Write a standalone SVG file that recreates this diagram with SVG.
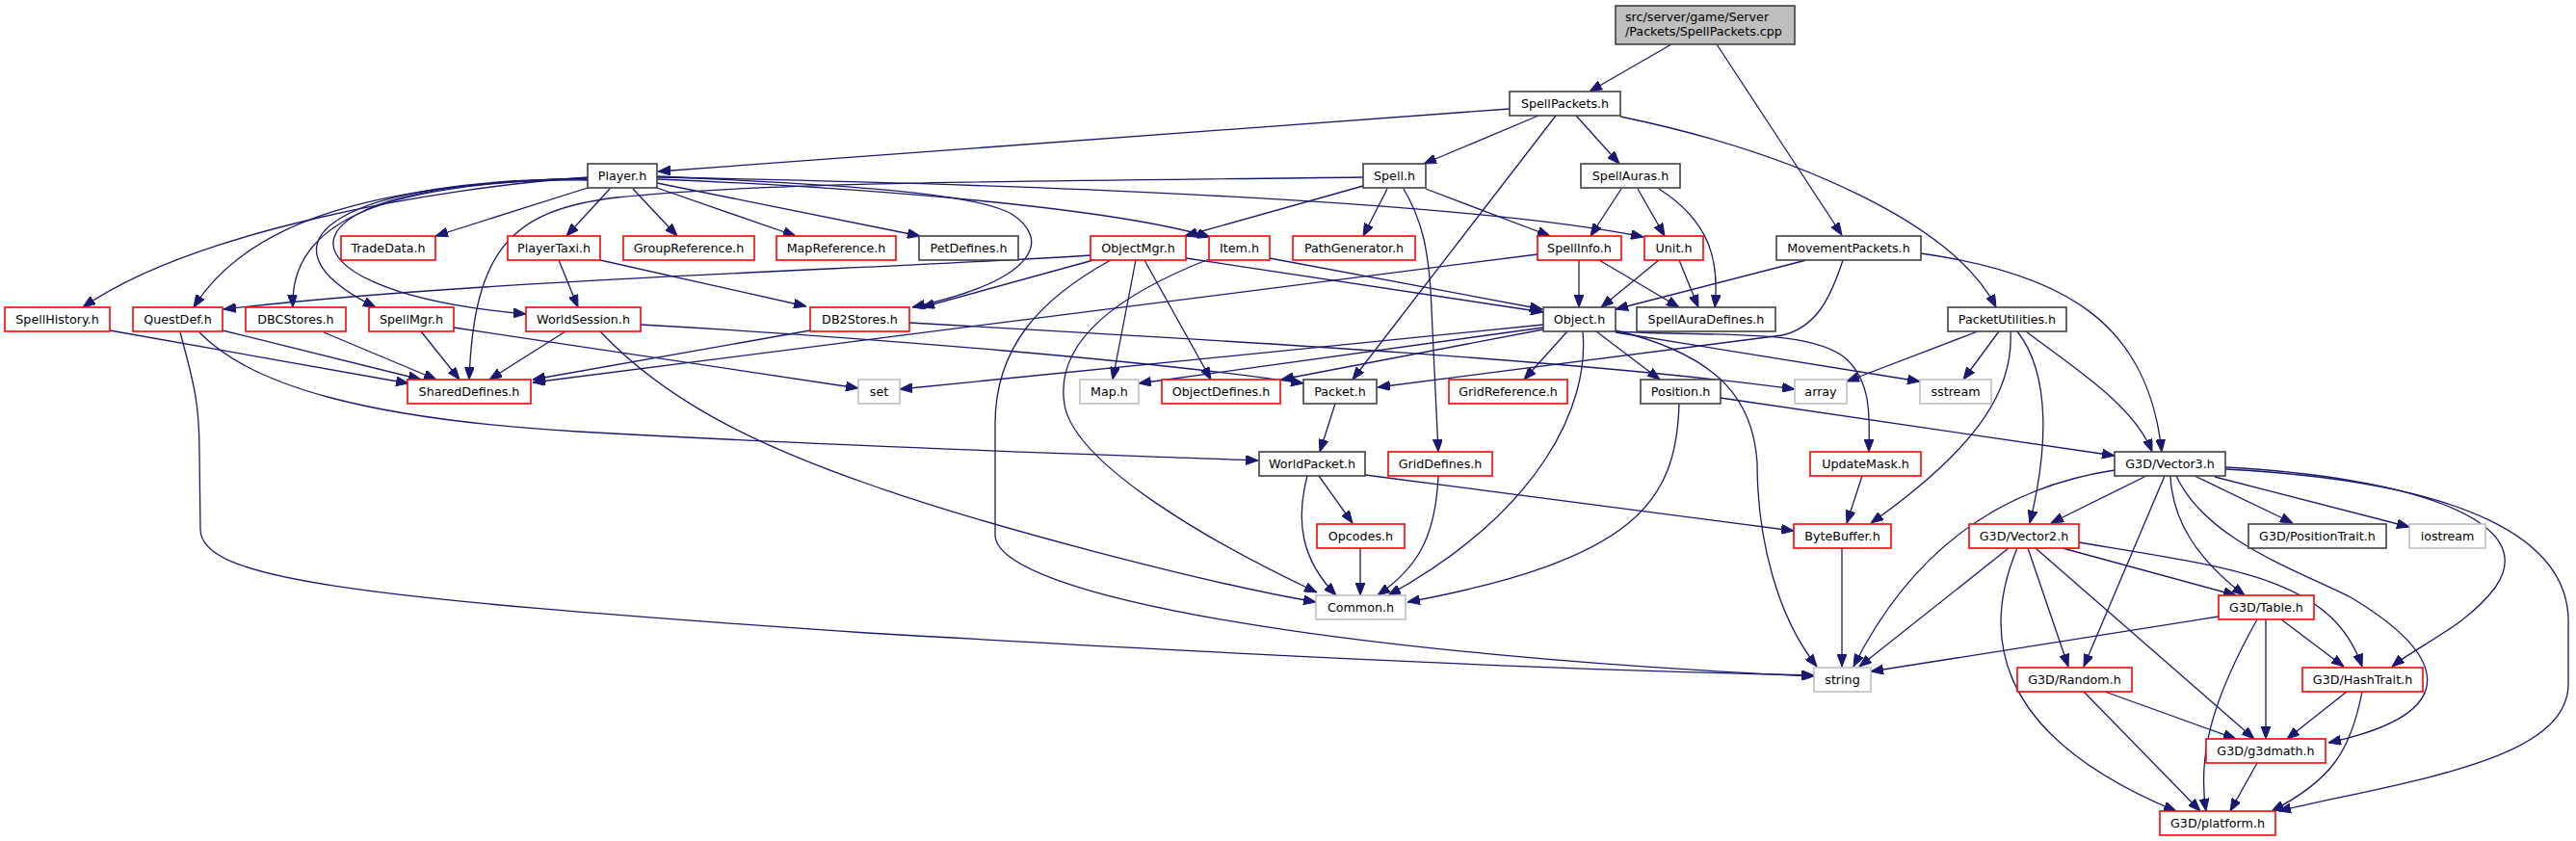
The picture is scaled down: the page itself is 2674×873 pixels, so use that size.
<svg xmlns="http://www.w3.org/2000/svg" width="2674" height="873" viewBox="0 0 2674 873">
<style>
rect{fill:#fff;stroke-width:1.6}
.k{stroke:#404040}
.r{stroke:#ff0000}
.g{stroke:#bfbfbf}
.s{fill:#bfbfbf;stroke:#404040}
text{font-family:"DejaVu Sans","Liberation Sans",sans-serif;font-size:12.7px;fill:#000;text-anchor:middle}
#edges path{fill:none;stroke:#191970;stroke-width:1.3;marker-end:url(#a)}
</style>
<defs>
<marker id="a" markerWidth="13" markerHeight="10" refX="13" refY="5" orient="auto" markerUnits="userSpaceOnUse"><path d="M0,0 L13,5 L0,10 z" fill="#191970" stroke="#191970" stroke-width="1"/></marker>
</defs>
<rect x="0" y="0" width="2674" height="873" style="fill:#fff;stroke:none"/>
<g id="edges">
<path d="M1735,46 L1650,95"/>
<path d="M1782,46 L1912,244"/>
<path d="M1567,113 L683,178"/>
<path d="M1597,120 L1478,170"/>
<path d="M1636,120 L1681,170"/>
<path d="M1615,120 L1404,394"/>
<path d="M1682,121 C1870,160 2030,235 2072,319"/>
<path d="M610,195 L452,245"/>
<path d="M633,196 L588,245"/>
<path d="M657,196 L703,245"/>
<path d="M682,195 L826,245"/>
<path d="M682,190 L955,245"/>
<path d="M682,186 C900,195 1150,215 1256,246"/>
<path d="M682,184 C1000,190 1500,205 1706,246"/>
<path d="M682,183 C880,192 1010,200 1050,222 C1090,248 1080,290 947,319"/>
<path d="M610,184 C450,195 200,240 86,319"/>
<path d="M610,185 C400,190 260,225 201,319"/>
<path d="M610,185 C420,190 300,220 304,319"/>
<path d="M610,186 C360,185 250,250 390,319"/>
<path d="M610,187 C280,185 260,300 546,326"/>
<path d="M1415,184 C1100,188 800,188 640,205 C530,218 492,260 487,394"/>
<path d="M1132,265 C900,280 500,290 232,321"/>
<path d="M1135,270 L957,319"/>
<path d="M1179,270 L1155,394"/>
<path d="M1188,270 L1257,394"/>
<path d="M1231,268 L1602,324"/>
<path d="M1153,270 C1080,310 1033,360 1033,440 L1033,555 C1033,620 1400,680 1883,702"/>
<path d="M1255,269 C1150,310 1095,360 1105,420 C1115,480 1250,560 1367,615"/>
<path d="M1318,268 L1601,321"/>
<path d="M1415,193 L1230,245"/>
<path d="M1440,196 L1415,245"/>
<path d="M1480,196 L1609,245"/>
<path d="M1457,196 C1477,230 1482,260 1485,300 L1493,469"/>
<path d="M1683,196 L1651,245"/>
<path d="M1700,196 L1728,245"/>
<path d="M1722,196 C1775,230 1785,270 1780,319"/>
<path d="M1639,270 L1639,319"/>
<path d="M1660,270 L1743,319"/>
<path d="M1596,264 L553,397"/>
<path d="M1722,270 L1662,319"/>
<path d="M1743,270 L1763,319"/>
<path d="M1875,270 L1677,321"/>
<path d="M1913,270 C1900,310 1885,340 1850,348 L1430,402"/>
<path d="M1994,263 C2150,285 2230,340 2244,469"/>
<path d="M2053,344 L1917,396"/>
<path d="M2075,344 L2038,394"/>
<path d="M2087,344 C2090,400 2060,460 1942,543"/>
<path d="M2094,344 C2130,390 2125,470 2107,543"/>
<path d="M2103,344 C2150,380 2215,420 2234,469"/>
<path d="M1602,337 L934,404"/>
<path d="M1602,340 L1182,398"/>
<path d="M1602,342 L1330,394"/>
<path d="M1627,344 L1582,394"/>
<path d="M1657,344 L1723,394"/>
<path d="M1643,344 C1650,420 1600,530 1441,618"/>
<path d="M1677,343 C1790,370 1820,420 1824,480 C1824,560 1845,640 1886,692"/>
<path d="M1677,344 C1780,350 1880,340 1917,373 C1945,400 1940,440 1940,469"/>
<path d="M1677,345 L1993,396"/>
<path d="M1786,413 L2195,473"/>
<path d="M1743,419 C1740,520 1700,580 1461,625"/>
<path d="M841,343 L553,394"/>
<path d="M944,335 C1300,355 1650,375 1863,404"/>
<path d="M580,270 L600,319"/>
<path d="M623,270 L837,318"/>
<path d="M114,343 L424,398"/>
<path d="M231,343 L437,394"/>
<path d="M336,345 L453,394"/>
<path d="M437,344 L477,394"/>
<path d="M587,344 L508,394"/>
<path d="M471,340 L891,403"/>
<path d="M665,337 C900,350 1200,375 1353,398"/>
<path d="M623,344 C690,415 780,460 900,502 C1020,545 1250,605 1366,625"/>
<path d="M207,345 C260,400 380,435 600,448 C900,465 1150,472 1306,478"/>
<path d="M187,345 C202,400 207,420 207,470 L208,550 C210,600 350,620 900,657 C1300,680 1600,695 1883,701"/>
<path d="M1386,419 L1370,469"/>
<path d="M1357,494 C1345,540 1350,580 1387,618"/>
<path d="M1369,494 L1404,543"/>
<path d="M1417,493 L1862,551"/>
<path d="M1412,569 L1412,618"/>
<path d="M1493,494 C1490,560 1470,590 1430,618"/>
<path d="M1933,494 L1917,543"/>
<path d="M1912,569 L1912,692"/>
<path d="M2195,488 C2050,510 1970,600 1924,692"/>
<path d="M2228,494 L2129,543"/>
<path d="M2247,494 L2163,692"/>
<path d="M2253,494 C2255,540 2280,580 2330,618"/>
<path d="M2259,494 C2290,560 2380,590 2440,620 C2540,680 2560,740 2417,771"/>
<path d="M2278,494 L2380,543"/>
<path d="M2299,495 L2501,547"/>
<path d="M2310,485 C2500,495 2640,540 2590,610 C2560,650 2510,670 2483,692"/>
<path d="M2310,487 C2560,500 2670,560 2666,650 L2666,710 C2666,790 2500,810 2365,842"/>
<path d="M2085,569 L1930,692"/>
<path d="M2094,569 C2060,650 2060,760 2259,842"/>
<path d="M2105,569 L2147,692"/>
<path d="M2113,569 L2340,767"/>
<path d="M2141,569 L2321,618"/>
<path d="M2158,563 C2320,590 2420,600 2452,692"/>
<path d="M2303,640 L1942,697"/>
<path d="M2343,643 C2300,720 2280,780 2290,842"/>
<path d="M2352,643 L2352,767"/>
<path d="M2368,643 L2433,692"/>
<path d="M2185,718 L2321,767"/>
<path d="M2163,718 L2284,842"/>
<path d="M2436,718 L2374,767"/>
<path d="M2452,718 C2440,780 2420,810 2358,842"/>
<path d="M2343,792 L2315,842"/>
</g>
<g id="n-src"><rect class="s" x="1677" y="6" width="186" height="40"/><text x="1687" y="22" style="text-anchor:start">src/server/game/Server</text><text x="1687" y="37" style="text-anchor:start">/Packets/SpellPackets.cpp</text></g>
<g id="n-SpellPackets"><rect class="k" x="1567" y="95" width="115" height="25"/><text x="1624.5" y="112">SpellPackets.h</text></g>
<g id="n-Player"><rect class="k" x="610" y="170" width="72" height="25"/><text x="646" y="187">Player.h</text></g>
<g id="n-Spell"><rect class="k" x="1415" y="170" width="65" height="25"/><text x="1447.5" y="187">Spell.h</text></g>
<g id="n-SpellAuras"><rect class="k" x="1641" y="170" width="103" height="25"/><text x="1692.5" y="187">SpellAuras.h</text></g>
<g id="n-TradeData"><rect class="r" x="354" y="245" width="98" height="25"/><text x="403" y="262">TradeData.h</text></g>
<g id="n-PlayerTaxi"><rect class="r" x="527" y="245" width="96" height="25"/><text x="575" y="262">PlayerTaxi.h</text></g>
<g id="n-GroupReference"><rect class="r" x="647" y="245" width="136" height="25"/><text x="715" y="262">GroupReference.h</text></g>
<g id="n-MapReference"><rect class="r" x="806" y="245" width="124" height="25"/><text x="868" y="262">MapReference.h</text></g>
<g id="n-PetDefines"><rect class="k" x="954" y="245" width="103" height="25"/><text x="1005.5" y="262">PetDefines.h</text></g>
<g id="n-ObjectMgr"><rect class="r" x="1132" y="245" width="99" height="25"/><text x="1181.5" y="262">ObjectMgr.h</text></g>
<g id="n-Item"><rect class="r" x="1255" y="245" width="63" height="25"/><text x="1286.5" y="262">Item.h</text></g>
<g id="n-PathGenerator"><rect class="r" x="1342" y="245" width="127" height="25"/><text x="1405.5" y="262">PathGenerator.h</text></g>
<g id="n-SpellInfo"><rect class="r" x="1596" y="245" width="87" height="25"/><text x="1639.5" y="262">SpellInfo.h</text></g>
<g id="n-Unit"><rect class="r" x="1707" y="245" width="61" height="25"/><text x="1737.5" y="262">Unit.h</text></g>
<g id="n-MovementPackets"><rect class="k" x="1844" y="245" width="150" height="25"/><text x="1919" y="262">MovementPackets.h</text></g>
<g id="n-SpellHistory"><rect class="r" x="5" y="319" width="109" height="25"/><text x="59.5" y="336">SpellHistory.h</text></g>
<g id="n-QuestDef"><rect class="r" x="138" y="319" width="93" height="25"/><text x="184.5" y="336">QuestDef.h</text></g>
<g id="n-DBCStores"><rect class="r" x="255" y="319" width="104" height="25"/><text x="307" y="336">DBCStores.h</text></g>
<g id="n-SpellMgr"><rect class="r" x="383" y="319" width="88" height="25"/><text x="427" y="336">SpellMgr.h</text></g>
<g id="n-WorldSession"><rect class="r" x="546" y="319" width="119" height="25"/><text x="605.5" y="336">WorldSession.h</text></g>
<g id="n-DB2Stores"><rect class="r" x="841" y="319" width="103" height="25"/><text x="892.5" y="336">DB2Stores.h</text></g>
<g id="n-Object"><rect class="k" x="1602" y="319" width="75" height="25"/><text x="1639.5" y="336">Object.h</text></g>
<g id="n-SpellAuraDefines"><rect class="k" x="1699" y="319" width="144" height="25"/><text x="1771" y="336">SpellAuraDefines.h</text></g>
<g id="n-PacketUtilities"><rect class="k" x="2022" y="319" width="123" height="25"/><text x="2083.5" y="336">PacketUtilities.h</text></g>
<g id="n-SharedDefines"><rect class="r" x="423" y="394" width="128" height="25"/><text x="487" y="411">SharedDefines.h</text></g>
<g id="n-set"><rect class="g" x="891" y="394" width="43" height="25"/><text x="912.5" y="411">set</text></g>
<g id="n-Map"><rect class="g" x="1121" y="394" width="61" height="25"/><text x="1151.5" y="411">Map.h</text></g>
<g id="n-ObjectDefines"><rect class="r" x="1206" y="394" width="123" height="25"/><text x="1267.5" y="411">ObjectDefines.h</text></g>
<g id="n-Packet"><rect class="k" x="1353" y="394" width="76" height="25"/><text x="1391" y="411">Packet.h</text></g>
<g id="n-GridReference"><rect class="r" x="1504" y="394" width="123" height="25"/><text x="1565.5" y="411">GridReference.h</text></g>
<g id="n-Position"><rect class="k" x="1703" y="394" width="83" height="25"/><text x="1744.5" y="411">Position.h</text></g>
<g id="n-array"><rect class="g" x="1863" y="394" width="54" height="25"/><text x="1890" y="411">array</text></g>
<g id="n-sstream"><rect class="g" x="1993" y="394" width="74" height="25"/><text x="2030" y="411">sstream</text></g>
<g id="n-WorldPacket"><rect class="k" x="1307" y="469" width="110" height="25"/><text x="1362" y="486">WorldPacket.h</text></g>
<g id="n-GridDefines"><rect class="r" x="1441" y="469" width="108" height="25"/><text x="1495" y="486">GridDefines.h</text></g>
<g id="n-UpdateMask"><rect class="r" x="1879" y="469" width="115" height="25"/><text x="1936.5" y="486">UpdateMask.h</text></g>
<g id="n-Vector3"><rect class="k" x="2195" y="469" width="115" height="25"/><text x="2252.5" y="486">G3D/Vector3.h</text></g>
<g id="n-Opcodes"><rect class="r" x="1367" y="544" width="91" height="25"/><text x="1412.5" y="561">Opcodes.h</text></g>
<g id="n-ByteBuffer"><rect class="r" x="1862" y="544" width="101" height="25"/><text x="1912.5" y="561">ByteBuffer.h</text></g>
<g id="n-Vector2"><rect class="r" x="2044" y="544" width="114" height="25"/><text x="2101" y="561">G3D/Vector2.h</text></g>
<g id="n-PositionTrait"><rect class="k" x="2334" y="544" width="143" height="25"/><text x="2405.5" y="561">G3D/PositionTrait.h</text></g>
<g id="n-iostream"><rect class="g" x="2501" y="544" width="79" height="25"/><text x="2540.5" y="561">iostream</text></g>
<g id="n-Common"><rect class="g" x="1366" y="618" width="93" height="25"/><text x="1412.5" y="635">Common.h</text></g>
<g id="n-Table"><rect class="r" x="2303" y="618" width="99" height="25"/><text x="2352.5" y="635">G3D/Table.h</text></g>
<g id="n-string"><rect class="g" x="1883" y="693" width="59" height="25"/><text x="1912.5" y="710">string</text></g>
<g id="n-Random"><rect class="r" x="2094" y="693" width="119" height="25"/><text x="2153.5" y="710">G3D/Random.h</text></g>
<g id="n-HashTrait"><rect class="r" x="2390" y="693" width="125" height="25"/><text x="2452.5" y="710">G3D/HashTrait.h</text></g>
<g id="n-g3dmath"><rect class="r" x="2290" y="767" width="124" height="25"/><text x="2352" y="784">G3D/g3dmath.h</text></g>
<g id="n-platform"><rect class="r" x="2242" y="842" width="120" height="25"/><text x="2302" y="859">G3D/platform.h</text></g>
</svg>
